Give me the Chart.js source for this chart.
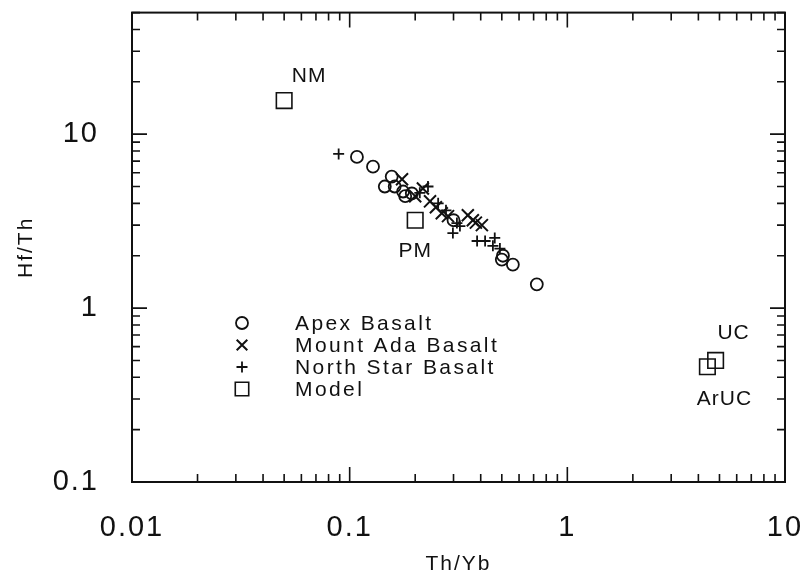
<!DOCTYPE html>
<html>
<head>
<meta charset="utf-8">
<script src="https://cdn.jsdelivr.net/npm/chart.js@4.4.1/dist/chart.umd.min.js"></script>
<style>
  html, body { margin: 0; padding: 0; background: #fff; }
  #hfth { display: block; }
</style>
</head>
<body>
<canvas id="hfth" width="805" height="579"></canvas>
<script>
// Apex Basalt
const apexX = [0.108, 0.128, 0.156, 0.145, 0.161, 0.176, 0.18, 0.193, 0.30, 0.506, 0.50, 0.562, 0.724];
const apexY = [7.4, 6.5, 5.7, 5.0, 5.0, 4.68, 4.4, 4.56, 3.2, 2.0, 1.9, 1.78, 1.37];

// Mount Ada Basalt
const adaX = [0.174, 0.20, 0.217, 0.234, 0.249, 0.265, 0.283, 0.349, 0.368, 0.38, 0.405];
const adaY = [5.5, 4.4, 4.87, 4.11, 3.80, 3.51, 3.38, 3.42, 3.2, 3.1, 3.0];

// North Star Basalt
const northX = [0.089, 0.21, 0.229, 0.255, 0.277, 0.311, 0.298, 0.321, 0.385, 0.419, 0.464, 0.455, 0.49];
const northY = [7.7, 4.6, 5.0, 4.0, 3.65, 3.08, 2.70, 2.96, 2.43, 2.43, 2.53, 2.28, 2.2];

// Model reservoirs
const modelNames = ["NM", "PM", "UC", "ArUC"];
const modelX = [0.05, 0.2, 4.8, 4.4];
const modelY = [15.6, 3.2, 0.5, 0.46];

const xTickValues = [0.01, 0.1, 1, 10];
const xTickLabels = ["0.01", "0.1", "1", "10"];
const yTickValues = [0.1, 1, 10];
const yTickLabels = ["0.1", "1", "10"];

const FONT = "'Liberation Sans', Arial, Helvetica, sans-serif";
const INK = "#111";
const X_MIN = 0.01, X_MAX = 10, Y_MIN = 0.1, Y_MAX = 50;

function pts(xs, ys) {
  return xs.map((v, i) => ({ x: v, y: ys[i] }));
}

// 1..9 steps in every decade between lo and hi
function logTicks(lo, hi) {
  const out = [];
  for (let d = lo; d <= hi * 1.0001; d *= 10) {
    for (let s = 1; s <= 9; s++) {
      const v = +(s * d).toPrecision(3);
      if (v <= hi * 1.0001) out.push(v);
    }
  }
  return out;
}

function isMajor(v) {
  const l = Math.log10(v);
  return Math.abs(l - Math.round(l)) < 1e-6;
}

function labelFor(values, labels, v) {
  const i = values.findIndex(t => Math.abs(t - v) / t < 1e-6);
  return i >= 0 ? labels[i] : null;
}

function noPadding(s) {
  s.paddingTop = 0; s.paddingBottom = 0; s.paddingLeft = 0; s.paddingRight = 0;
}

// wider letter spacing for the axis text drawn by the scales
const spacedText = {
  id: "spacedText",
  beforeDraw(chart) { chart.ctx.letterSpacing = "2px"; },
  afterDraw(chart) { chart.ctx.letterSpacing = "0px"; }
};

// frame around the plot with inward ticks on all four sides
const frameTicks = {
  id: "frameTicks",
  afterDatasetsDraw(chart) {
    const { ctx, chartArea: a, scales: { x, y } } = chart;
    ctx.save();
    ctx.strokeStyle = INK;
    ctx.lineWidth = 2;
    ctx.strokeRect(a.left, a.top, a.right - a.left, a.bottom - a.top);
    ctx.lineWidth = 1.6;
    ctx.beginPath();
    logTicks(X_MIN, X_MAX).forEach(v => {
      const px = x.getPixelForValue(v);
      const len = isMajor(v) ? 15 : 8;
      ctx.moveTo(px, a.bottom); ctx.lineTo(px, a.bottom - len);
      ctx.moveTo(px, a.top); ctx.lineTo(px, a.top + len);
    });
    logTicks(Y_MIN, Y_MAX).forEach(v => {
      const py = y.getPixelForValue(v);
      const len = isMajor(v) ? 15 : 8;
      ctx.moveTo(a.left, py); ctx.lineTo(a.left + len, py);
      ctx.moveTo(a.right, py); ctx.lineTo(a.right - len, py);
    });
    ctx.stroke();
    ctx.restore();
  }
};

// names next to the model squares
const modelTags = {
  id: "modelTags",
  afterDatasetsDraw(chart) {
    const { ctx } = chart;
    const meta = chart.getDatasetMeta(3);
    const shift = { NM: [25, -24], PM: [0, 31], UC: [18, -27], ArUC: [17, 32] };
    ctx.save();
    ctx.letterSpacing = "1px";
    ctx.fillStyle = INK;
    ctx.font = "21px " + FONT;
    ctx.textAlign = "center";
    ctx.textBaseline = "middle";
    meta.data.forEach((el, i) => {
      const name = modelNames[i];
      const [dx, dy] = shift[name];
      ctx.fillText(name, el.x + dx, el.y + dy);
    });
    ctx.restore();
  }
};

// legend block inside the plot
const boxLegend = {
  id: "boxLegend",
  afterDatasetsDraw(chart) {
    const { ctx } = chart;
    ctx.save();
    ctx.font = "21px " + FONT;
    ctx.letterSpacing = "2.4px";
    ctx.textBaseline = "middle";
    ctx.strokeStyle = INK;
    const rows = [323, 345, 367, 389];
    const sizes = [6, 7.5, 5.5, 9.5];
    chart.data.datasets.forEach((ds, i) => {
      ctx.lineWidth = ds.borderWidth;
      ctx.fillStyle = "rgba(0,0,0,0)";
      Chart.helpers.drawPoint(ctx, { pointStyle: ds.pointStyle, radius: sizes[i], borderWidth: ds.borderWidth, rotation: 0 }, 242, rows[i]);
      ctx.fillStyle = INK;
      ctx.fillText(ds.label, 295, rows[i] + 1);
    });
    ctx.restore();
  }
};

new Chart(document.getElementById("hfth"), {
  type: "scatter",
  data: {
    datasets: [
      {
        label: "Apex Basalt",
        data: pts(apexX, apexY),
        pointStyle: "circle",
        pointRadius: 6,
        borderColor: INK,
        backgroundColor: "rgba(0,0,0,0)",
        borderWidth: 1.8
      },
      {
        label: "Mount Ada Basalt",
        data: pts(adaX, adaY),
        pointStyle: "crossRot",
        pointRadius: 8.5,
        borderColor: INK,
        backgroundColor: "rgba(0,0,0,0)",
        borderWidth: 2
      },
      {
        label: "North Star Basalt",
        data: pts(northX, northY),
        pointStyle: "cross",
        pointRadius: 5.5,
        borderColor: INK,
        backgroundColor: "rgba(0,0,0,0)",
        borderWidth: 1.8
      },
      {
        label: "Model",
        data: pts(modelX, modelY),
        pointStyle: "rect",
        pointRadius: 11,
        borderColor: INK,
        backgroundColor: "rgba(0,0,0,0)",
        borderWidth: 1.6
      }
    ]
  },
  options: {
    responsive: false,
    animation: false,
    devicePixelRatio: 1,
    layout: { padding: { top: 9, right: 20, left: 0, bottom: 0 } },
    plugins: {
      legend: { display: false },
      tooltip: { enabled: false }
    },
    scales: {
      x: {
        type: "logarithmic",
        min: X_MIN,
        max: X_MAX,
        afterBuildTicks: s => { s.ticks = xTickValues.map(v => ({ value: v })); },
        afterFit: s => { s.height = 97; noPadding(s); },
        grid: { display: false },
        border: { display: false },
        ticks: {
          autoSkip: false,
          maxRotation: 0,
          padding: 21,
          color: INK,
          font: { family: FONT, size: 29 },
          callback: v => labelFor(xTickValues, xTickLabels, v)
        },
        title: {
          display: true,
          text: "Th/Yb",
          color: INK,
          font: { family: FONT, size: 21 },
          padding: { top: 0, bottom: 2 }
        }
      },
      y: {
        type: "logarithmic",
        min: Y_MIN,
        max: Y_MAX,
        afterBuildTicks: s => { s.ticks = yTickValues.map(v => ({ value: v })); },
        afterFit: s => { s.width = 132; noPadding(s); },
        grid: { display: false },
        border: { display: false },
        ticks: {
          autoSkip: false,
          padding: 25,
          color: INK,
          font: { family: FONT, size: 29 },
          callback: v => labelFor(yTickValues, yTickLabels, v)
        },
        title: {
          display: true,
          text: "Hf/Th",
          color: INK,
          font: { family: FONT, size: 21 },
          padding: { top: 14, bottom: 0 }
        }
      }
    }
  },
  plugins: [spacedText, frameTicks, modelTags, boxLegend]
});
</script>
</body>
</html>
